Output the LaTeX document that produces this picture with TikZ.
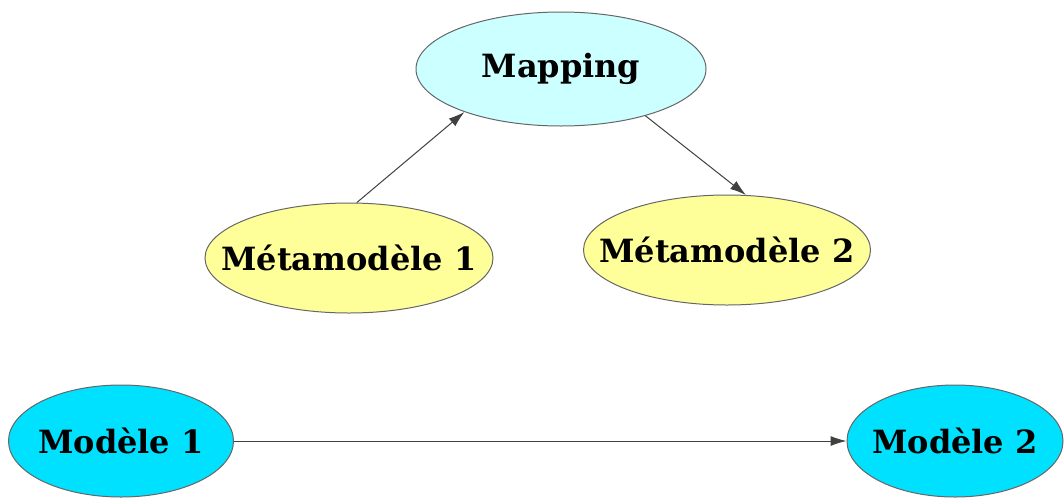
\documentclass[tikz,border=0pt]{standalone}
\usepackage{fontspec}
\setmainfont{DejaVu Serif}
\usetikzlibrary{shapes.geometric, arrows.meta}
\definecolor{mapfill}{HTML}{CCFFFF}
\definecolor{metafill}{HTML}{FFFF99}
\definecolor{modfill}{HTML}{00E0FF}
\newcommand{\etiq}[1]{\makebox[0pt]{#1}}
\begin{document}
\begin{tikzpicture}[x=1pt, y=-1pt,
        boite/.style={ellipse, draw=black!60, line width=1pt, inner sep=0pt,
            font=\fontsize{32}{37}\selectfont\bfseries},
        fleche/.style={-{Latex[length=16pt, width=10pt]}, draw=black!75, line width=1pt}]
        \useasboundingbox (0,0) rectangle (1064,498);

        % niveau du mapping
        \node[boite, fill=mapfill, minimum width=290pt, minimum height=114pt] (map) at (561,69) {\etiq{Mapping}};

        % metamodeles
        \node[boite, fill=metafill, minimum width=288pt, minimum height=110pt] (meta1) at (349,258) {\etiq{Métamodèle 1}};
        \node[boite, fill=metafill, minimum width=287pt, minimum height=110pt] (meta2) at (727,250) {\etiq{Métamodèle 2}};

        % modeles
        \node[boite, fill=modfill, minimum width=225pt, minimum height=112pt] (mod1) at (121,441) {\etiq{Modèle 1}};
        \node[boite, fill=modfill, minimum width=216pt, minimum height=112pt] (mod2) at (955,441) {\etiq{Modèle 2}};

        % transformations
        \draw[fleche] (meta1.82) -- (map.204);
        \draw[fleche] (map.331) -- (meta2.71);
        \draw[fleche] (mod1) -- (mod2);

    \end{tikzpicture}
\end{document}
